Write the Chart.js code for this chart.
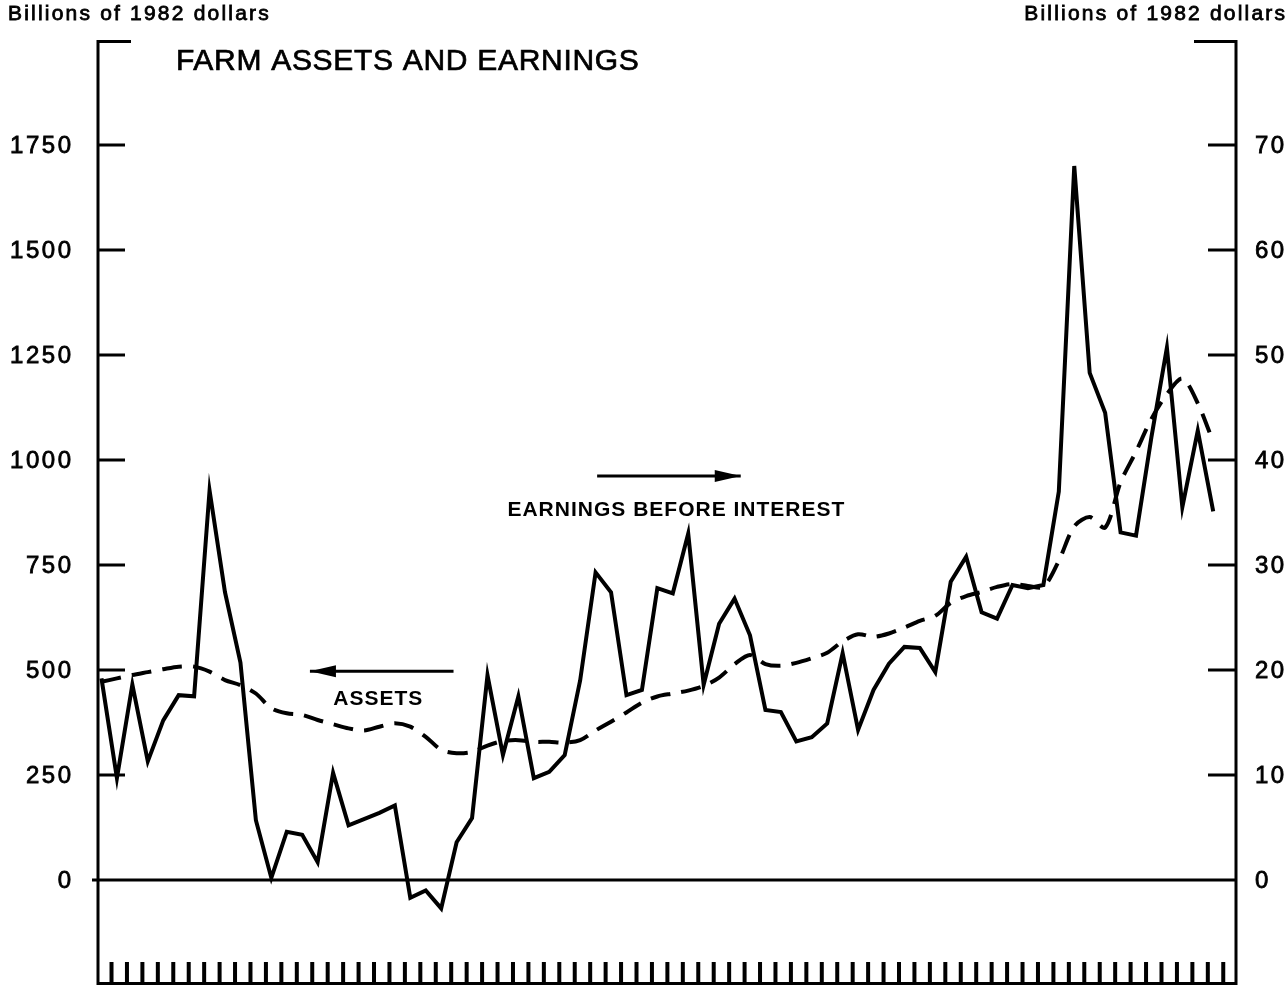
<!DOCTYPE html>
<html>
<head>
<meta charset="utf-8">
<title>Farm Assets and Earnings</title>
<script src="https://cdn.jsdelivr.net/npm/chart.js@4.4.0/dist/chart.umd.min.js"></script>
<style>
  html, body { margin: 0; padding: 0; background: #fff; }
  #wrap { width: 1288px; height: 986px; }
</style>
</head>
<body>
<div id="wrap"><canvas id="farmChart" width="1288" height="986"></canvas></div>
<script>
// years on the x axis (one tick per year)
const years = Array.from({ length: 73 }, (_, i) => 1910 + i);

// earnings before interest, billions of 1982 dollars (right axis)
const earnings = [
    19.2, 9.7, 18.6, 11.3, 15.2, 17.6, 17.5, 37.1, 27.4, 20.7,
    5.7, 0.2, 4.6, 4.3, 1.7, 10.2, 5.2, 5.8, 6.4, 7.1,
    -1.7, -1.0, -2.7, 3.6, 5.9, 19.5, 11.9, 17.5, 9.7, 10.3,
    11.9, 19.0, 29.3, 27.4, 17.6, 18.1, 27.8, 27.3, 33.0, 18.6,
    24.4, 26.8, 23.3, 16.2, 16.0, 13.2, 13.6, 14.9, 21.6, 14.3,
    18.1, 20.6, 22.2, 22.1, 19.8, 28.4, 30.8, 25.5, 24.9, 28.1,
    27.8, 28.1, 37.0, 68.0, 48.3, 44.5, 33.1, 32.8, 42.2, 50.7,
    35.5, 42.8, 35.1
];

// farm assets, billions of 1982 dollars (left axis)
const assets = [
    472, 480, 488, 495, 502, 508, 508, 496, 476, 464,
    444, 409, 397, 393, 381, 371, 361, 356, 365, 373,
    365, 341, 310, 302, 305, 320, 331, 333, 329, 329,
    327, 333, 356, 377, 399, 422, 437, 444, 451, 462,
    482, 514, 536, 514, 510, 517, 528, 541, 568, 585,
    579, 587, 601, 617, 629, 660, 676, 686, 698, 705,
    700, 698, 760, 842, 864, 839, 947, 1020, 1098, 1157,
    1194, 1135, 1043
];

// tick labels
const leftTicks = [0, 250, 500, 750, 1000, 1250, 1500, 1750];
const rightTicks = [0, 10, 20, 30, 40, 50, 60, 70];

const FONT = '"Liberation Sans", Arial, sans-serif';

// text with tracking, canvas letterSpacing adds space after the last glyph too
// heavy > 0 adds a thin outline to mimic the dark print of the original
function drawText(ctx, str, x, y, size, weight, spacing, align, heavy) {
    ctx.save();
    ctx.font = weight + ' ' + size + 'px ' + FONT;
    ctx.letterSpacing = spacing + 'px';
    ctx.fillStyle = '#000';
    ctx.strokeStyle = '#000';
    ctx.textBaseline = 'alphabetic';
    ctx.textAlign = 'left';
    const w = ctx.measureText(str).width - spacing;
    let sx = x;
    if (align === 'right') sx = x - w;
    if (align === 'center') sx = x - w / 2;
    ctx.fillText(str, sx, y);
    if (heavy) {
        ctx.lineWidth = heavy;
        ctx.strokeText(str, sx, y);
    }
    ctx.restore();
}

function arrow(ctx, x1, x2, y, headLeft) {
    ctx.save();
    ctx.strokeStyle = '#000';
    ctx.fillStyle = '#000';
    ctx.lineWidth = 3;
    ctx.beginPath();
    ctx.moveTo(x1, y);
    ctx.lineTo(x2, y);
    ctx.stroke();
    const tip = headLeft ? x1 : x2;
    const dir = headLeft ? 1 : -1;
    ctx.beginPath();
    ctx.moveTo(tip, y);
    ctx.lineTo(tip + dir * 26, y - 6);
    ctx.lineTo(tip + dir * 26, y + 6);
    ctx.closePath();
    ctx.fill();
    ctx.restore();
}

const framePlugin = {
    id: 'frame',
    beforeDatasetsDraw(chart) {
        const ctx = chart.ctx;
        const { left, right, top, bottom } = chart.chartArea;
        const x = chart.scales.x, y = chart.scales.y, y1 = chart.scales.y1;
        const L = left + 1, R = right - 1;

        ctx.save();
        ctx.strokeStyle = '#000';
        ctx.lineCap = 'butt';
        ctx.lineWidth = 3;

        ctx.beginPath();
        // side axes
        ctx.moveTo(L, top); ctx.lineTo(L, bottom);
        ctx.moveTo(R, top); ctx.lineTo(R, bottom);
        // top corner caps
        ctx.moveTo(L - 1.5, top + 1.5); ctx.lineTo(L + 33, top + 1.5);
        ctx.moveTo(R - 42, top + 1.5); ctx.lineTo(R + 1.5, top + 1.5);
        // bottom line
        ctx.moveTo(L, bottom - 1.5); ctx.lineTo(R, bottom - 1.5);
        // zero line
        const y0 = y.getPixelForValue(0);
        ctx.moveTo(L - 6, y0); ctx.lineTo(R, y0);
        ctx.stroke();

        // inner tick marks on both value axes
        ctx.beginPath();
        leftTicks.forEach(v => {
            if (v === 0) return;
            const py = y.getPixelForValue(v);
            ctx.moveTo(L, py); ctx.lineTo(L + 27, py);
        });
        rightTicks.forEach(v => {
            if (v === 0) return;
            const py = y1.getPixelForValue(v);
            ctx.moveTo(R - 28, py); ctx.lineTo(R, py);
        });
        ctx.stroke();

        // year ticks along the bottom
        ctx.lineWidth = 4;
        ctx.beginPath();
        years.forEach(yr => {
            const px = x.getPixelForValue(yr + 0.65);
            ctx.moveTo(px, bottom - 23); ctx.lineTo(px, bottom);
        });
        ctx.stroke();
        ctx.restore();
    },
    afterDraw(chart) {
        const ctx = chart.ctx;
        const x = chart.scales.x, y = chart.scales.y, y1 = chart.scales.y1;

        // axis tick labels
        leftTicks.forEach(v => {
            drawText(ctx, String(v), 71, y.getPixelForValue(v) + 8, 24, 'normal', 2.5, 'right', 0.8);
        });
        rightTicks.forEach(v => {
            drawText(ctx, String(v), 1255, y1.getPixelForValue(v) + 8, 24, 'normal', 2.5, 'left', 0.8);
        });

        // unit captions and title
        drawText(ctx, 'Billions of 1982 dollars', 8, 20, 21, 'normal', 2.2, 'left', 0.8);
        drawText(ctx, 'Billions of 1982 dollars', 1285, 20, 21, 'normal', 2.2, 'right', 0.8);
        drawText(ctx, 'FARM ASSETS AND EARNINGS', 176, 70, 30, 'normal', 0.7, 'left', 0.7);

        // series labels with arrows pointing at their axis
        arrow(ctx, x.getPixelForValue(1923.5), x.getPixelForValue(1932.8), y.getPixelForValue(497), true);
        drawText(ctx, 'ASSETS', x.getPixelForValue(1927.9), y.getPixelForValue(436) + 8, 21, 'bold', 1, 'center');
        arrow(ctx, x.getPixelForValue(1942.1), x.getPixelForValue(1951.4), y.getPixelForValue(962), false);
        drawText(ctx, 'EARNINGS BEFORE INTEREST', x.getPixelForValue(1947.2), y.getPixelForValue(886) + 8, 21, 'bold', 1, 'center');
    }
};

const ctx = document.getElementById('farmChart').getContext('2d');

new Chart(ctx, {
    type: 'line',
    data: {
        datasets: [
            {
                label: 'Earnings before interest',
                data: years.map((yr, i) => ({ x: yr, y: earnings[i] })),
                yAxisID: 'y1',
                borderColor: '#000',
                borderWidth: 4,
                pointRadius: 0,
                tension: 0,
                borderJoinStyle: 'miter'
            },
            {
                label: 'Assets',
                data: years.map((yr, i) => ({ x: yr, y: assets[i] })),
                yAxisID: 'y',
                borderColor: '#000',
                borderWidth: 4,
                borderDash: [20, 11],
                pointRadius: 0,
                tension: 0.3
            }
        ]
    },
    options: {
        responsive: false,
        devicePixelRatio: 1,
        animation: false,
        layout: { padding: { top: 40, bottom: 1, left: 0, right: 0 } },
        plugins: {
            legend: { display: false },
            tooltip: { enabled: false }
        },
        scales: {
            x: {
                type: 'linear',
                min: 1909.71,
                max: 1983.54,
                display: false
            },
            y: {
                position: 'left',
                min: -250,
                max: 2000,
                grid: { display: false },
                border: { display: false },
                ticks: { display: false },
                afterFit: s => { s.width = 97; }
            },
            y1: {
                position: 'right',
                min: -10,
                max: 80,
                grid: { display: false },
                border: { display: false },
                ticks: { display: false },
                afterFit: s => { s.width = 51; }
            }
        }
    },
    plugins: [framePlugin]
});
</script>
</body>
</html>
